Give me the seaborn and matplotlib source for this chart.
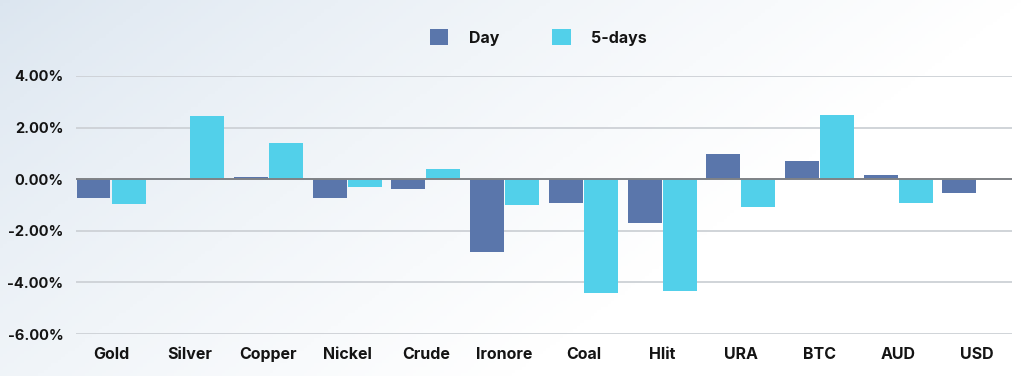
import numpy as np
import pandas as pd
import matplotlib
matplotlib.use("Agg")
import matplotlib.pyplot as plt
import seaborn as sns
from matplotlib.patches import Patch

# Data (percent change)
assets = ["Gold", "Silver", "Copper", "Nickel", "Crude", "Ironore",
          "Coal", "Hlit", "URA", "BTC", "AUD", "USD"]
day = [-0.74, 0.01, 0.08, -0.74, -0.38, -2.84, -0.92, -1.71, 0.99, 0.72, 0.18, -0.53]
five_days = [-0.96, 2.43, 1.40, -0.29, 0.41, -1.00, -4.42, -4.33, -1.07, 2.49, -0.91, 0.0]
series = ["Day", "5-days"]
yticks = [-6, -4, -2, 0, 2, 4]

df = pd.DataFrame({
    "asset": assets * 2,
    "series": [series[0]] * len(assets) + [series[1]] * len(assets),
    "value": day + five_days,
})

sns.set_theme(style="white")
plt.rcParams["font.family"] = ["Inter", "DejaVu Sans"]
text_col = "#141414"
colors = {"Day": "#5a76ab", "5-days": "#52d0ea"}

fig = plt.figure(figsize=(10.24, 3.76), dpi=100)

# gradient background
bg = fig.add_axes([0, 0, 1, 1])
xx, yy = np.meshgrid(np.linspace(0, 1, 300), np.linspace(0, 1, 120))
t = np.clip((xx * 1.0 + (1 - yy) * 0.5) / 1.0, 0, 1) ** 0.8
c0 = np.array([0.86, 0.90, 0.94])
c1 = np.array([1.0, 1.0, 1.0])
img = c0[None, None, :] * (1 - t[..., None]) + c1[None, None, :] * t[..., None]
bg.imshow(img, origin="lower", aspect="auto", extent=[0, 1, 0, 1])
bg.axis("off")

ax = fig.add_axes([0.0742, 0.1117, 0.9141, 0.6862])
ax.patch.set_alpha(0)

sns.barplot(data=df, x="asset", y="value", hue="series", hue_order=series,
            palette=colors, saturation=1, width=0.89, gap=0.03,
            linewidth=0, legend=False, ax=ax)

ax.set_xlim(-0.445, len(assets) - 0.555)
ax.set_ylim(-6, 4)
ax.set_yticks(yticks)
ax.set_yticklabels([f"{v:.2f}%" for v in yticks])
ax.set_xlabel("")
ax.set_ylabel("")
for s in ax.spines.values():
    s.set_visible(False)
ax.set_axisbelow(True)
ax.grid(axis="y", color="#cdd1d6", linewidth=1.3)
ax.axhline(0, color="#7f8286", linewidth=1.4, zorder=3)
ax.tick_params(axis="y", length=0, pad=9, labelsize=10.5, labelcolor=text_col)
ax.tick_params(axis="x", length=0, pad=9, labelsize=11.5, labelcolor=text_col)
for lab in ax.get_xticklabels() + ax.get_yticklabels():
    lab.set_fontweight("bold")

handles = [Patch(facecolor=colors[s], edgecolor="none") for s in series]
leg = fig.legend(handles, series, loc="center", bbox_to_anchor=(0.526, 0.9),
                 ncol=2, frameon=False, handlelength=1.15, handleheight=1.15,
                 handletextpad=1.3, columnspacing=3.3, fontsize=11.5)
for txt in leg.get_texts():
    txt.set_fontweight("bold")
    txt.set_color(text_col)

fig.savefig("out.png", dpi=100)
